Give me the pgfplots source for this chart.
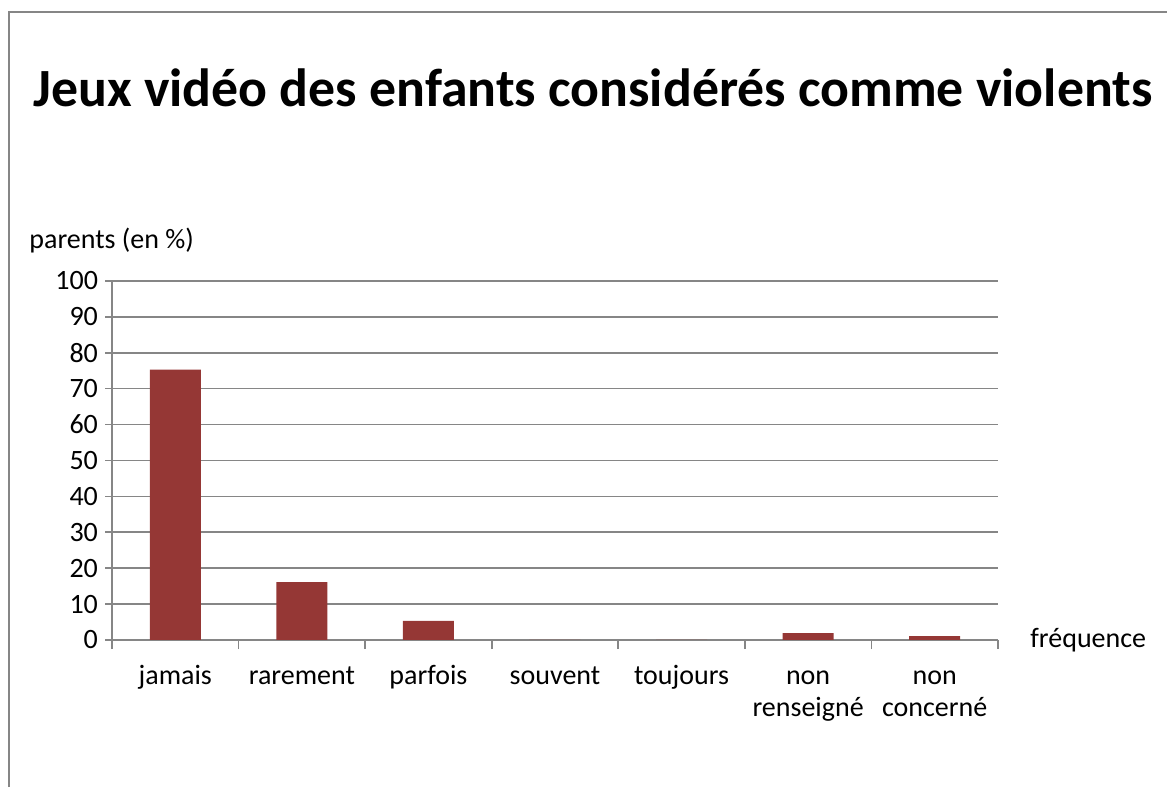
\documentclass[border=0pt]{standalone}
\usepackage{pgfplots}
\pgfplotsset{compat=1.18}
\usepackage{fontspec}
\setmainfont{Carlito}
\definecolor{barred}{RGB}{149,55,53}
\definecolor{gridgray}{RGB}{134,134,134}
\begin{document}
\begin{tikzpicture}
\useasboundingbox (0,0) rectangle (583.5pt,393.5pt);
\draw[gridgray, line width=1pt] (4.5pt,0) -- (4.5pt,387.5pt) -- (583.5pt,387.5pt);
\node[font=\fontsize{26.9}{32}\selectfont\bfseries, anchor=center] at (296.5pt,349.5pt) {Jeux vidéo des enfants considérés comme violents};
\node[font=\fontsize{14}{17}\selectfont, anchor=base west, inner sep=0] at (14.5pt,269pt) {parents (en \%)};
\node[font=\fontsize{14}{17}\selectfont, anchor=west, inner sep=0] at (515pt,73.5pt) {fréquence};
\begin{axis}[
  at={(56pt,73.5pt)}, anchor=south west,
  scale only axis, width=443pt, height=179.5pt,
  xmin=-0.5, xmax=6.5, ymin=0, ymax=100,
  axis x line*=bottom, axis y line*=left,
  axis line style={gridgray, line width=0.8pt},
  ytick={0,10,...,100},
  ymajorgrids, grid style={gridgray, line width=0.8pt},
  xtick={0,...,6},
  xticklabels={\strut jamais,\strut rarement,\strut parfois,\strut souvent,\strut toujours,{\strut non\\renseigné},{\strut non\\concerné}},
  xticklabel style={align=center, font=\fontsize{14}{16}\selectfont, yshift=-4pt},
  yticklabel style={font=\fontsize{14}{16}\selectfont},
  /pgf/number format/assume math mode=true,
  minor xtick={-0.5,0.5,...,6.5},
  tick align=outside,
  major tick length=3.5pt,
  x tick style={draw=none},
  minor x tick style={draw=gridgray, line width=0.8pt},
  minor tick length=4.5pt,
  y tick style={gridgray, line width=0.8pt},
  tick label style={black},
  clip=false,
]
\addplot[ybar, bar width=25.5pt, fill=barred, draw=none] coordinates {
  (0,75.3) (1,16.1) (2,5.3) (3,0) (4,0) (5,1.9) (6,1.1)
};
\end{axis}
\end{tikzpicture}
\end{document}
